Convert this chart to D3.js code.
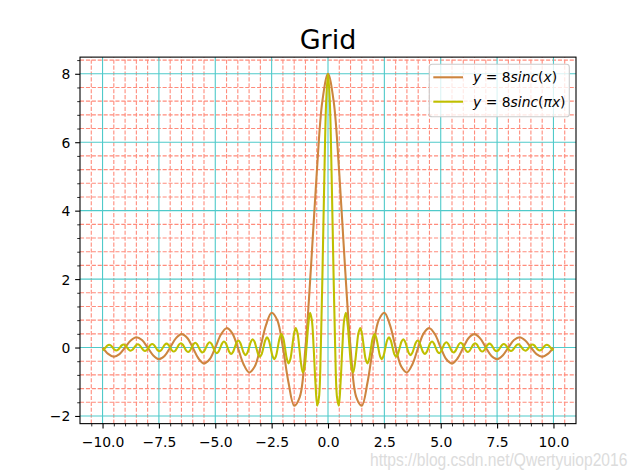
<!DOCTYPE html>
<html><head><meta charset="utf-8">
<script src="https://cdn.jsdelivr.net/npm/d3@7/dist/d3.min.js"></script>
<style>body{margin:0;background:#fff}svg{display:block}</style>
</head><body>
<svg id="c" width="640" height="476"></svg>
<script>
// ---- data ----
const orangeX = [-10,-9.75,-9.5,-9.25,-9,-8.75,-8.5,-8.25,-8,-7.75,-7.5,-7.25,-7,-6.75,-6.5,-6.25,-6,-5.75,-5.5,-5.25,-5,-4.75,-4.5,-4.25,-4,-3.75,-3.5,-3.25,-3,-2.75,-2.5,-2.25,-2,-1.75,-1.5,-1.25,-1,-0.75,-0.5,-0.25,0,0.25,0.5,0.75,1,1.25,1.5,1.75,2,2.25,2.5,2.75,3,3.25,3.5,3.75,4,4.25,4.5,4.75,5,5.25,5.5,5.75,6,6.25,6.5,6.75,7,7.25,7.5,7.75,8,8.25,8.5,8.75,9,9.25,9.5,9.75,10];
const orangeY = [0,-0.1847,-0.2681,-0.1947,0,0.2058,0.2996,0.2183,0,-0.2323,-0.3395,-0.2484,0,0.2668,0.3918,0.2881,0,-0.3132,-0.4630,-0.3430,0,0.3791,0.5659,0.4237,0,-0.4802,-0.7276,-0.5540,0,0.6548,1.0186,0.8003,0,-1.0290,-1.6977,-1.4405,0,2.4009,5.0930,7.2026,8,7.2026,5.0930,2.4009,0,-1.4405,-1.6977,-1.0290,0,0.8003,1.0186,0.6548,0,-0.5540,-0.7276,-0.4802,0,0.4237,0.5659,0.3791,0,-0.3430,-0.4630,-0.3132,0,0.2881,0.3918,0.2668,0,-0.2484,-0.3395,-0.2323,0,0.2183,0.2996,0.2058,0,-0.1947,-0.2681,-0.1847,0];

const yellowX = [-10,-9.9472,-9.8676,-9.7880,-9.7085,-9.6289,-9.5493,-9.4697,-9.3901,-9.3106,-9.2310,-9.1514,-9.0718,-8.9923,-8.9127,-8.8331,-8.7535,-8.6739,-8.5944,-8.5148,-8.4352,-8.3556,-8.2761,-8.1965,-8.1169,-8.0373,-7.9577,-7.8782,-7.7986,-7.7190,-7.6394,-7.5599,-7.4803,-7.4007,-7.3211,-7.2416,-7.1620,-7.0824,-7.0028,-6.9232,-6.8437,-6.7641,-6.6845,-6.6049,-6.5254,-6.4458,-6.3662,-6.2866,-6.2070,-6.1275,-6.0479,-5.9683,-5.8887,-5.8092,-5.7296,-5.6500,-5.5704,-5.4908,-5.4113,-5.3317,-5.2521,-5.1725,-5.0930,-5.0134,-4.9338,-4.8542,-4.7746,-4.6951,-4.6155,-4.5359,-4.4563,-4.3768,-4.2972,-4.2176,-4.1380,-4.0585,-3.9789,-3.8993,-3.8197,-3.7401,-3.6606,-3.5810,-3.5014,-3.4218,-3.3423,-3.2627,-3.1831,-3.1035,-3.0239,-2.9444,-2.8648,-2.7852,-2.7056,-2.6261,-2.5465,-2.4669,-2.3873,-2.3077,-2.2282,-2.1486,-2.0690,-1.9894,-1.9099,-1.8303,-1.7507,-1.6711,-1.5915,-1.5120,-1.4324,-1.3528,-1.2732,-1.1937,-1.1141,-1.0345,-0.9549,-0.8754,-0.7958,-0.7162,-0.6366,-0.5570,-0.4775,-0.3979,-0.3183,-0.2387,-0.1592,-0.0796,
0,
0.0796,0.1592,0.2387,0.3183,0.3979,0.4775,0.5570,0.6366,0.7162,0.7958,0.8754,0.9549,1.0345,1.1141,1.1937,1.2732,1.3528,1.4324,1.5120,1.5915,1.6711,1.7507,1.8303,1.9099,1.9894,2.0690,2.1486,2.2282,2.3077,2.3873,2.4669,2.5465,2.6261,2.7056,2.7852,2.8648,2.9444,3.0239,3.1035,3.1831,3.2627,3.3423,3.4218,3.5014,3.5810,3.6606,3.7401,3.8197,3.8993,3.9789,4.0585,4.1380,4.2176,4.2972,4.3768,4.4563,4.5359,4.6155,4.6951,4.7746,4.8542,4.9338,5.0134,5.0930,5.1725,5.2521,5.3317,5.4113,5.4908,5.5704,5.6500,5.7296,5.8092,5.8887,5.9683,6.0479,6.1275,6.2070,6.2866,6.3662,6.4458,6.5254,6.6049,6.6845,6.7641,6.8437,6.9232,7.0028,7.0824,7.1620,7.2416,7.3211,7.4007,7.4803,7.5599,7.6394,7.7190,7.7986,7.8782,7.9577,8.0373,8.1169,8.1965,8.2761,8.3556,8.4352,8.5148,8.5944,8.6739,8.7535,8.8331,8.9127,8.9923,9.0718,9.1514,9.2310,9.3106,9.3901,9.4697,9.5493,9.6289,9.7085,9.7880,9.8676,9.9472,10];
const yellowY = [-0.0783,-0.0576,0,0.0586,0.0835,0.0595,0,-0.0605,-0.0863,-0.0616,0,0.0626,0.0894,0.0637,0,-0.0649,-0.0926,-0.0661,0,0.0673,0.0961,0.0686,0,-0.0699,-0.0999,-0.0713,0,0.0728,0.1039,0.0743,0,-0.0758,-0.1084,-0.0774,0,0.0792,0.1132,0.0809,0,-0.0828,-0.1184,-0.0847,0,0.0868,0.1242,0.0889,0,-0.0912,-0.1306,-0.0935,0,0.0960,0.1376,0.0987,0,-0.1014,-0.1455,-0.1044,0,0.1075,0.1543,0.1108,0,-0.1143,-0.1643,-0.1181,0,0.1221,0.1756,0.1264,0,-0.1310,-0.1886,-0.1359,0,0.1412,0.2037,0.1470,0,-0.1532,-0.2214,-0.1601,0,0.1675,0.2425,0.1757,0,-0.1847,-0.2681,-0.1947,0,0.2058,0.2996,0.2183,0,-0.2323,-0.3395,-0.2484,0,0.2668,0.3918,0.2881,0,-0.3132,-0.4630,-0.3430,0,0.3791,0.5659,0.4237,0,-0.4802,-0.7276,-0.5540,0,0.6548,1.0186,0.8003,0,-1.0290,-1.6977,-1.4405,0,2.4009,5.0930,7.2026,
8,
7.2026,5.0930,2.4009,0,-1.4405,-1.6977,-1.0290,0,0.8003,1.0186,0.6548,0,-0.5540,-0.7276,-0.4802,0,0.4237,0.5659,0.3791,0,-0.3430,-0.4630,-0.3132,0,0.2881,0.3918,0.2668,0,-0.2484,-0.3395,-0.2323,0,0.2183,0.2996,0.2058,0,-0.1947,-0.2681,-0.1847,0,0.1757,0.2425,0.1675,0,-0.1601,-0.2214,-0.1532,0,0.1470,0.2037,0.1412,0,-0.1359,-0.1886,-0.1310,0,0.1264,0.1756,0.1221,0,-0.1181,-0.1643,-0.1143,0,0.1108,0.1543,0.1075,0,-0.1044,-0.1455,-0.1014,0,0.0987,0.1376,0.0960,0,-0.0935,-0.1306,-0.0912,0,0.0889,0.1242,0.0868,0,-0.0847,-0.1184,-0.0828,0,0.0809,0.1132,0.0792,0,-0.0774,-0.1084,-0.0758,0,0.0743,0.1039,0.0728,0,-0.0713,-0.0999,-0.0699,0,0.0686,0.0961,0.0673,0,-0.0661,-0.0926,-0.0649,0,0.0637,0.0894,0.0626,0,-0.0616,-0.0863,-0.0605,0,0.0595,0.0835,0.0586,0,-0.0576,-0.0783];

const xTicks = [-10,-7.5,-5,-2.5,0,2.5,5,7.5,10];
const xTickLabels = ["\u221210.0","\u22127.5","\u22125.0","\u22122.5","0.0","2.5","5.0","7.5","10.0"];
const yTicks = [-2,0,2,4,6,8];
const yTickLabels = ["\u22122","0","2","4","6","8"];
const titleText = "Grid";
const watermark = "https://blog.csdn.net/Qwertyuiop2016";

// ---- layout ----
const L = 80, R = 576, T = 57.12, B = 423.64;
const svg = d3.select("#c");
const FONT = "'DejaVu Sans', sans-serif";

const x = d3.scaleLinear().domain([-11, 11]).range([L, R]);
const yMin = -1.7374, yMax = 8, pad = (yMax - yMin) * 0.05;
const y = d3.scaleLinear().domain([yMin - pad, yMax + pad]).range([B, T]);

const isMajor = (v, arr) => arr.some(t => Math.abs(t - v) < 1e-6);
const xMinor = d3.range(-21, 22).map(k => k * 0.5).filter(v => !isMajor(v, xTicks));
const yMinor = d3.range(-5, 22).map(k => +(k * 0.4).toFixed(2)).filter(v => !isMajor(v, yTicks));

const grid = svg.append("g");
// minor grid (red, dashed)
grid.selectAll(".mvx").data(xMinor).join("line")
  .attr("x1", d => x(d)).attr("x2", d => x(d)).attr("y1", B).attr("y2", T)
  .attr("stroke", "#ff8c7c").attr("stroke-width", 1.1).attr("stroke-dasharray", "4.1,1.8");
grid.selectAll(".mhy").data(yMinor).join("line")
  .attr("y1", d => y(d)).attr("y2", d => y(d)).attr("x1", L).attr("x2", R)
  .attr("stroke", "#ff8c7c").attr("stroke-width", 1.1).attr("stroke-dasharray", "4.1,1.8");
// major grid (cyan, solid)
grid.selectAll(".gvx").data(xTicks).join("line")
  .attr("x1", d => x(d)).attr("x2", d => x(d)).attr("y1", B).attr("y2", T)
  .attr("stroke", "#4fcaca").attr("stroke-width", 1.1);
grid.selectAll(".ghy").data(yTicks).join("line")
  .attr("y1", d => y(d)).attr("y2", d => y(d)).attr("x1", L).attr("x2", R)
  .attr("stroke", "#4fcaca").attr("stroke-width", 1.1);

// ---- lines ----
const line = d3.line().x(d => x(d[0])).y(d => y(d[1])).curve(d3.curveCatmullRom.alpha(0.5));
const plot = svg.append("g");
plot.append("path").attr("d", line(d3.zip(orangeX, orangeY)))
  .attr("fill", "none").attr("stroke", "#cd853f").attr("stroke-width", 2.08)
  .attr("stroke-linejoin", "round");
plot.append("path").attr("d", line(d3.zip(yellowX, yellowY)))
  .attr("fill", "none").attr("stroke", "#bfbf00").attr("stroke-width", 2.08)
  .attr("stroke-linejoin", "round");

// ---- axes ----
const xAxis = d3.axisBottom(x).tickValues(xTicks).tickFormat((d, i) => xTickLabels[i])
  .tickSizeInner(4.86).tickSizeOuter(0).tickPadding(4.86);
const gx = svg.append("g").attr("transform", `translate(0,${B})`).call(xAxis);
gx.select(".domain").remove();
gx.selectAll("line").attr("stroke", "#000").attr("stroke-width", 1.1);
gx.selectAll("text").attr("font-family", FONT).attr("font-size", 13.9).attr("fill", "#000").attr("dy", "0.97em");

const xAxisMinor = d3.axisBottom(x).tickValues(xMinor).tickFormat("").tickSizeInner(2.78).tickSizeOuter(0);
const gxm = svg.append("g").attr("transform", `translate(0,${B})`).call(xAxisMinor);
gxm.select(".domain").remove();
gxm.selectAll("line").attr("stroke", "#000").attr("stroke-width", 0.83);

const yAxis = d3.axisLeft(y).tickValues(yTicks).tickFormat((d, i) => yTickLabels[i])
  .tickSizeInner(4.86).tickSizeOuter(0).tickPadding(4.86);
const gy = svg.append("g").attr("transform", `translate(${L},0)`).call(yAxis);
gy.select(".domain").remove();
gy.selectAll("line").attr("stroke", "#000").attr("stroke-width", 1.1);
gy.selectAll("text").attr("font-family", FONT).attr("font-size", 13.9).attr("fill", "#000").attr("dy", "0.36em");

const yAxisMinor = d3.axisLeft(y).tickValues(yMinor).tickFormat("").tickSizeInner(2.78).tickSizeOuter(0);
const gym = svg.append("g").attr("transform", `translate(${L},0)`).call(yAxisMinor);
gym.select(".domain").remove();
gym.selectAll("line").attr("stroke", "#000").attr("stroke-width", 0.83);

// spines
svg.append("rect").attr("x", L).attr("y", T).attr("width", R - L).attr("height", B - T)
  .attr("fill", "none").attr("stroke", "#000").attr("stroke-width", 1.1);

// title
svg.append("text").attr("x", (L + R) / 2).attr("y", 48.5).attr("text-anchor", "middle")
  .attr("font-family", FONT).attr("font-size", 27).attr("fill", "#000").text(titleText);

// ---- legend ----
const leg = svg.append("g");
leg.append("rect").attr("x", 429.3).attr("y", 64.3).attr("width", 140).attr("height", 52.4)
  .attr("rx", 2.8).attr("fill", "#fff").attr("fill-opacity", 0.8)
  .attr("stroke", "#cccccc").attr("stroke-width", 1.1);
const legendItems = [
  {color: "#cd853f", parts: [["y", true], [" = 8", false], ["sinc", true], ["(", false], ["x", true], [")", false]]},
  {color: "#bfbf00", parts: [["y", true], [" = 8", false], ["sinc", true], ["(", false], ["\u03c0x", true], [")", false]]}
];
legendItems.forEach((it, i) => {
  const cy = 77.3 + i * 24.4;
  leg.append("line").attr("x1", 433.3).attr("x2", 463).attr("y1", cy).attr("y2", cy)
    .attr("stroke", it.color).attr("stroke-width", 2.08);
  const t = leg.append("text").attr("x", 473).attr("y", cy + 5)
    .attr("font-family", FONT).attr("font-size", 13.9).attr("fill", "#000");
  it.parts.forEach(p => t.append("tspan").attr("font-style", p[1] ? "italic" : "normal").text(p[0]));
});

// watermark
svg.append("text").attr("transform", "translate(370,466) scale(1,1.18)")
  .attr("font-family", "'Liberation Sans', Arial, sans-serif")
  .attr("font-size", 15.6).attr("fill", "#dcdcdc").text(watermark);
</script>
</body></html>
